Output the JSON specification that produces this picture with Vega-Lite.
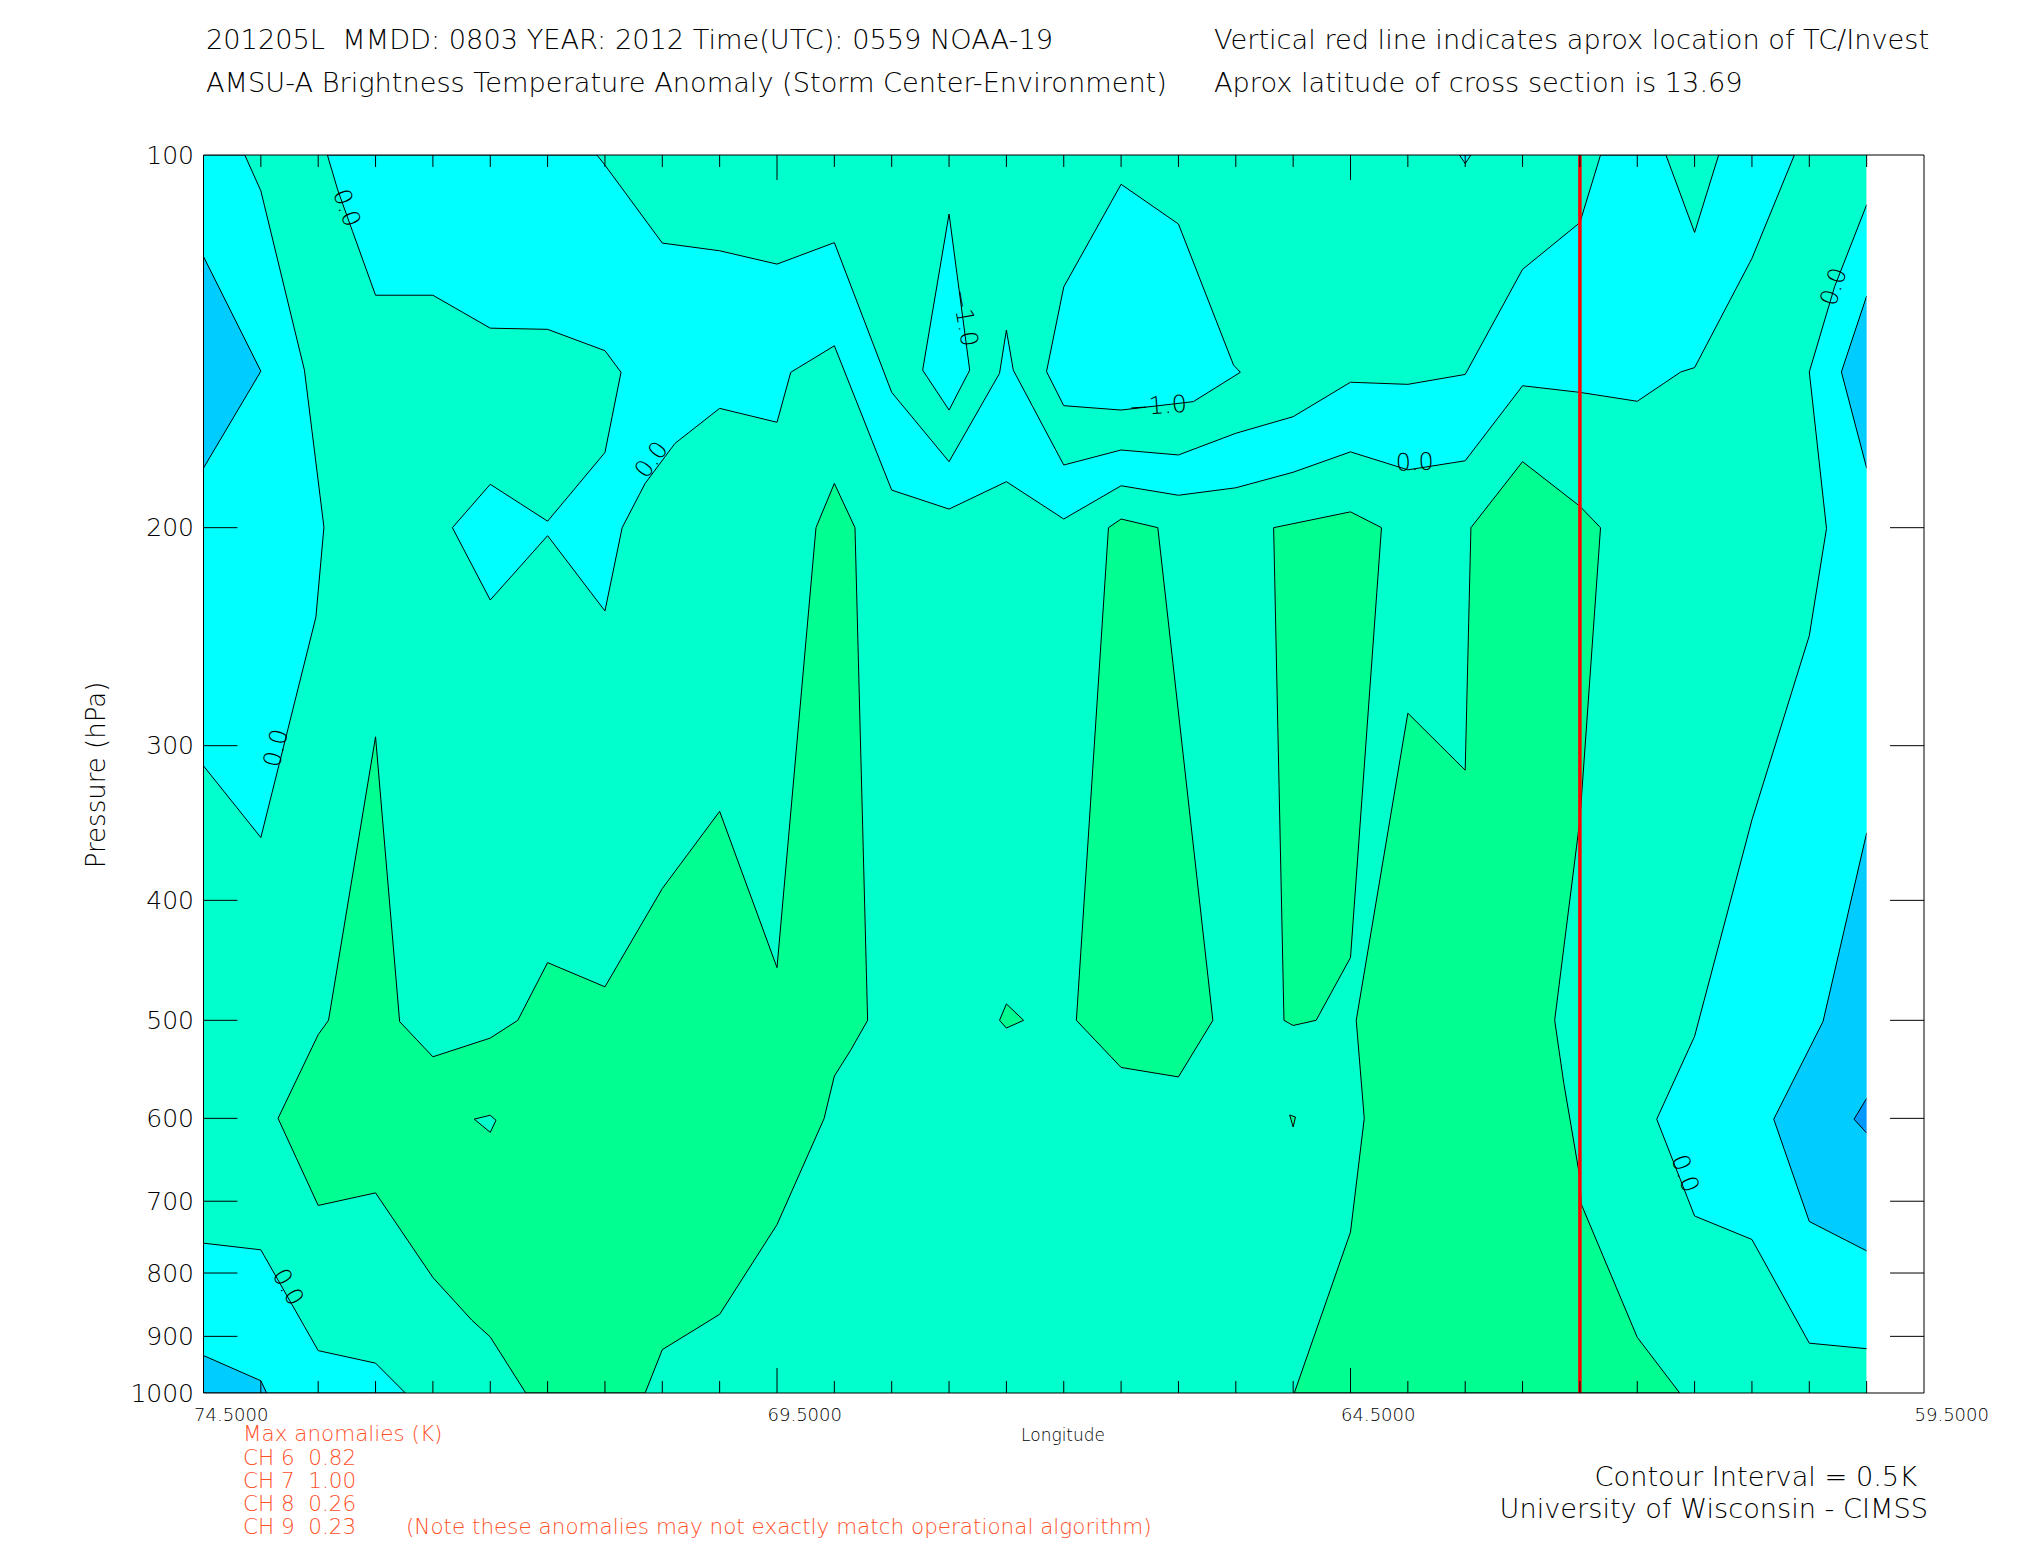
{
"$schema":"https://vega.github.io/schema/vega-lite/v6.json",
"width":1720.5,"height":1238,
"autosize":{"type":"none"},
"padding":{"left":203.5,"top":155,"right":101,"bottom":157},
"background":"white",
"config":{"view":{"stroke":null},"font":"DejaVu Sans","text":{"font":"DejaVu Sans"}},
"datasets":{
"poly":[
{"id":"A","k":0,"lon":74.5,"p":100,"c":"cyan"},{"id":"A","k":1,"lon":74.14,"p":100,"c":"cyan"},{"id":"A","k":2,"lon":74.0,"p":106.9,"c":"cyan"},{"id":"A","k":3,"lon":73.62,"p":149.2,"c":"cyan"},{"id":"A","k":4,"lon":73.45,"p":199.8,"c":"cyan"},{"id":"A","k":5,"lon":73.52,"p":236.2,"c":"cyan"},{"id":"A","k":6,"lon":74.0,"p":355.9,"c":"cyan"},{"id":"A","k":7,"lon":74.5,"p":311.5,"c":"cyan"},
{"id":"B","k":0,"lon":73.42,"p":100,"c":"cyan"},{"id":"B","k":1,"lon":73.33,"p":106.7,"c":"cyan"},{"id":"B","k":2,"lon":73.2,"p":115.3,"c":"cyan"},{"id":"B","k":3,"lon":73.0,"p":129.8,"c":"cyan"},{"id":"B","k":4,"lon":72.5,"p":129.8,"c":"cyan"},{"id":"B","k":5,"lon":72.0,"p":138.0,"c":"cyan"},{"id":"B","k":6,"lon":71.5,"p":138.3,"c":"cyan"},{"id":"B","k":7,"lon":71.0,"p":143.9,"c":"cyan"},{"id":"B","k":8,"lon":70.86,"p":149.8,"c":"cyan"},{"id":"B","k":9,"lon":71.0,"p":173.9,"c":"cyan"},{"id":"B","k":10,"lon":71.5,"p":197.6,"c":"cyan"},{"id":"B","k":11,"lon":72.0,"p":184.5,"c":"cyan"},{"id":"B","k":12,"lon":72.33,"p":200,"c":"cyan"},{"id":"B","k":13,"lon":72.0,"p":228.8,"c":"cyan"},{"id":"B","k":14,"lon":71.5,"p":203.0,"c":"cyan"},{"id":"B","k":15,"lon":71.0,"p":233.5,"c":"cyan"},{"id":"B","k":16,"lon":70.85,"p":200,"c":"cyan"},{"id":"B","k":17,"lon":70.65,"p":184.2,"c":"cyan"},{"id":"B","k":18,"lon":70.39,"p":171.0,"c":"cyan"},{"id":"B","k":19,"lon":70.0,"p":160.2,"c":"cyan"},{"id":"B","k":20,"lon":69.5,"p":164.4,"c":"cyan"},{"id":"B","k":21,"lon":69.38,"p":149.8,"c":"cyan"},{"id":"B","k":22,"lon":69.0,"p":142.6,"c":"cyan"},{"id":"B","k":23,"lon":68.5,"p":186.5,"c":"cyan"},{"id":"B","k":24,"lon":68.0,"p":193.2,"c":"cyan"},{"id":"B","k":25,"lon":67.5,"p":183.6,"c":"cyan"},{"id":"B","k":26,"lon":67.0,"p":196.8,"c":"cyan"},{"id":"B","k":27,"lon":66.5,"p":185.0,"c":"cyan"},{"id":"B","k":28,"lon":66.0,"p":188.3,"c":"cyan"},{"id":"B","k":29,"lon":65.5,"p":185.7,"c":"cyan"},{"id":"B","k":30,"lon":65.0,"p":180.4,"c":"cyan"},{"id":"B","k":31,"lon":64.5,"p":173.7,"c":"cyan"},{"id":"B","k":32,"lon":64.0,"p":179.6,"c":"cyan"},{"id":"B","k":33,"lon":63.5,"p":176.6,"c":"cyan"},{"id":"B","k":34,"lon":63.0,"p":153.6,"c":"cyan"},{"id":"B","k":35,"lon":62.5,"p":155.5,"c":"cyan"},{"id":"B","k":36,"lon":62.0,"p":158.1,"c":"cyan"},{"id":"B","k":37,"lon":61.62,"p":149.7,"c":"cyan"},{"id":"B","k":38,"lon":61.5,"p":148.5,"c":"cyan"},{"id":"B","k":39,"lon":61.0,"p":121.2,"c":"cyan"},{"id":"B","k":40,"lon":60.63,"p":100,"c":"cyan"},{"id":"B","k":41,"lon":61.29,"p":100,"c":"cyan"},{"id":"B","k":42,"lon":61.5,"p":115.5,"c":"cyan"},{"id":"B","k":43,"lon":61.75,"p":100,"c":"cyan"},{"id":"B","k":44,"lon":62.32,"p":100,"c":"cyan"},{"id":"B","k":45,"lon":62.5,"p":113.4,"c":"cyan"},{"id":"B","k":46,"lon":63.0,"p":123.7,"c":"cyan"},{"id":"B","k":47,"lon":63.5,"p":150.4,"c":"cyan"},{"id":"B","k":48,"lon":64.0,"p":153.2,"c":"cyan"},{"id":"B","k":49,"lon":64.5,"p":152.6,"c":"cyan"},{"id":"B","k":50,"lon":65.0,"p":162.7,"c":"cyan"},{"id":"B","k":51,"lon":65.5,"p":167.8,"c":"cyan"},{"id":"B","k":52,"lon":66.0,"p":174.7,"c":"cyan"},{"id":"B","k":53,"lon":66.5,"p":173.1,"c":"cyan"},{"id":"B","k":54,"lon":67.0,"p":178.0,"c":"cyan"},{"id":"B","k":55,"lon":67.44,"p":149.2,"c":"cyan"},{"id":"B","k":56,"lon":67.5,"p":138.5,"c":"cyan"},{"id":"B","k":57,"lon":67.56,"p":150.1,"c":"cyan"},{"id":"B","k":58,"lon":68.0,"p":176.9,"c":"cyan"},{"id":"B","k":59,"lon":68.5,"p":155.5,"c":"cyan"},{"id":"B","k":60,"lon":69.0,"p":117.7,"c":"cyan"},{"id":"B","k":61,"lon":69.5,"p":122.5,"c":"cyan"},{"id":"B","k":62,"lon":70.0,"p":119.5,"c":"cyan"},{"id":"B","k":63,"lon":70.5,"p":117.8,"c":"cyan"},{"id":"B","k":64,"lon":71.0,"p":101.9,"c":"cyan"},{"id":"B","k":65,"lon":71.07,"p":100,"c":"cyan"},
{"id":"E1","k":0,"lon":66.5,"p":105.6,"c":"cyan"},{"id":"E1","k":1,"lon":66.0,"p":113.7,"c":"cyan"},{"id":"E1","k":2,"lon":65.52,"p":147.8,"c":"cyan"},{"id":"E1","k":3,"lon":65.46,"p":149.8,"c":"cyan"},{"id":"E1","k":4,"lon":65.87,"p":158.2,"c":"cyan"},{"id":"E1","k":5,"lon":66.5,"p":160.7,"c":"cyan"},{"id":"E1","k":6,"lon":67.0,"p":159.4,"c":"cyan"},{"id":"E1","k":7,"lon":67.15,"p":149.6,"c":"cyan"},{"id":"E1","k":8,"lon":67.0,"p":127.8,"c":"cyan"},
{"id":"E2","k":0,"lon":68.0,"p":111.6,"c":"cyan"},{"id":"E2","k":1,"lon":67.82,"p":149.2,"c":"cyan"},{"id":"E2","k":2,"lon":68.0,"p":160.7,"c":"cyan"},{"id":"E2","k":3,"lon":68.23,"p":149.2,"c":"cyan"},
{"id":"V","k":0,"lon":63.55,"p":100,"c":"cyan"},{"id":"V","k":1,"lon":63.5,"p":101.6,"c":"cyan"},{"id":"V","k":2,"lon":63.45,"p":100,"c":"cyan"},
{"id":"C","k":0,"lon":60.0,"p":109.7,"c":"cyan"},{"id":"C","k":1,"lon":60.28,"p":127.8,"c":"cyan"},{"id":"C","k":2,"lon":60.5,"p":149.7,"c":"cyan"},{"id":"C","k":3,"lon":60.35,"p":200.3,"c":"cyan"},{"id":"C","k":4,"lon":60.5,"p":244.5,"c":"cyan"},{"id":"C","k":5,"lon":61.0,"p":344.4,"c":"cyan"},{"id":"C","k":6,"lon":61.5,"p":515.1,"c":"cyan"},{"id":"C","k":7,"lon":61.83,"p":600.9,"c":"cyan"},{"id":"C","k":8,"lon":61.5,"p":719.5,"c":"cyan"},{"id":"C","k":9,"lon":61.0,"p":751.6,"c":"cyan"},{"id":"C","k":10,"lon":60.5,"p":911.5,"c":"cyan"},{"id":"C","k":11,"lon":60.0,"p":920.9,"c":"cyan"},{"id":"C","k":12,"lon":59.5,"p":920.9,"c":"cyan"},{"id":"C","k":13,"lon":59.5,"p":109.7,"c":"cyan"},
{"id":"D","k":0,"lon":74.5,"p":756.8,"c":"cyan"},{"id":"D","k":1,"lon":74.0,"p":766.2,"c":"cyan"},{"id":"D","k":2,"lon":73.5,"p":924.2,"c":"cyan"},{"id":"D","k":3,"lon":73.0,"p":946.0,"c":"cyan"},{"id":"D","k":4,"lon":72.74,"p":1000,"c":"cyan"},{"id":"D","k":5,"lon":74.5,"p":1000,"c":"cyan"},
{"id":"BL1","k":0,"lon":74.5,"p":120.8,"c":"blue"},{"id":"BL1","k":1,"lon":74.0,"p":149.5,"c":"blue"},{"id":"BL1","k":2,"lon":74.5,"p":179.0,"c":"blue"},
{"id":"BL2","k":0,"lon":74.5,"p":932.7,"c":"blue"},{"id":"BL2","k":1,"lon":74.0,"p":977.5,"c":"blue"},{"id":"BL2","k":2,"lon":73.95,"p":1000,"c":"blue"},{"id":"BL2","k":3,"lon":74.5,"p":1000,"c":"blue"},
{"id":"BL3","k":0,"lon":60.0,"p":130.0,"c":"blue"},{"id":"BL3","k":1,"lon":60.22,"p":149.7,"c":"blue"},{"id":"BL3","k":2,"lon":60.0,"p":179.0,"c":"blue"},{"id":"BL3","k":3,"lon":59.5,"p":179.0,"c":"blue"},{"id":"BL3","k":4,"lon":59.5,"p":130.0,"c":"blue"},
{"id":"BL4","k":0,"lon":60.0,"p":352.9,"c":"blue"},{"id":"BL4","k":1,"lon":60.38,"p":501.0,"c":"blue"},{"id":"BL4","k":2,"lon":60.81,"p":600.9,"c":"blue"},{"id":"BL4","k":3,"lon":60.5,"p":726.9,"c":"blue"},{"id":"BL4","k":4,"lon":60.0,"p":767.7,"c":"blue"},{"id":"BL4","k":5,"lon":59.5,"p":767.7,"c":"blue"},{"id":"BL4","k":6,"lon":59.5,"p":352.9,"c":"blue"},
{"id":"BL5","k":0,"lon":60.0,"p":578.2,"c":"deep"},{"id":"BL5","k":1,"lon":60.11,"p":600.9,"c":"deep"},{"id":"BL5","k":2,"lon":60.0,"p":616.6,"c":"deep"},{"id":"BL5","k":3,"lon":59.5,"p":616.6,"c":"deep"},{"id":"BL5","k":4,"lon":59.5,"p":578.2,"c":"deep"},
{"id":"G1","k":0,"lon":73.0,"p":295.1,"c":"green"},{"id":"G1","k":1,"lon":72.79,"p":501.2,"c":"green"},{"id":"G1","k":2,"lon":72.5,"p":535.1,"c":"green"},{"id":"G1","k":3,"lon":72.0,"p":516.8,"c":"green"},{"id":"G1","k":4,"lon":71.76,"p":500,"c":"green"},{"id":"G1","k":5,"lon":71.5,"p":449.1,"c":"green"},{"id":"G1","k":6,"lon":71.0,"p":469.8,"c":"green"},{"id":"G1","k":7,"lon":70.5,"p":391.3,"c":"green"},{"id":"G1","k":8,"lon":70.0,"p":339.0,"c":"green"},{"id":"G1","k":9,"lon":69.5,"p":453.3,"c":"green"},{"id":"G1","k":10,"lon":69.16,"p":200,"c":"green"},{"id":"G1","k":11,"lon":69.0,"p":184.2,"c":"green"},{"id":"G1","k":12,"lon":68.82,"p":200,"c":"green"},{"id":"G1","k":13,"lon":68.71,"p":500,"c":"green"},{"id":"G1","k":14,"lon":68.86,"p":529.0,"c":"green"},{"id":"G1","k":15,"lon":69.0,"p":554.6,"c":"green"},{"id":"G1","k":16,"lon":69.09,"p":600.4,"c":"green"},{"id":"G1","k":17,"lon":69.5,"p":731.1,"c":"green"},{"id":"G1","k":18,"lon":70.0,"p":863.9,"c":"green"},{"id":"G1","k":19,"lon":70.5,"p":922.5,"c":"green"},{"id":"G1","k":20,"lon":70.65,"p":1000,"c":"green"},{"id":"G1","k":21,"lon":71.69,"p":1000,"c":"green"},{"id":"G1","k":22,"lon":72.0,"p":901.0,"c":"green"},{"id":"G1","k":23,"lon":72.16,"p":873.4,"c":"green"},{"id":"G1","k":24,"lon":72.5,"p":806.7,"c":"green"},{"id":"G1","k":25,"lon":73.0,"p":689.2,"c":"green"},{"id":"G1","k":26,"lon":73.5,"p":705.5,"c":"green"},{"id":"G1","k":27,"lon":73.85,"p":600,"c":"green"},{"id":"G1","k":28,"lon":73.5,"p":513.5,"c":"green"},{"id":"G1","k":29,"lon":73.41,"p":500,"c":"green"},
{"id":"G2","k":0,"lon":67.5,"p":485,"c":"green"},{"id":"G2","k":1,"lon":67.35,"p":500,"c":"green"},{"id":"G2","k":2,"lon":67.5,"p":507.2,"c":"green"},{"id":"G2","k":3,"lon":67.56,"p":500,"c":"green"},
{"id":"G3","k":0,"lon":66.61,"p":200,"c":"green"},{"id":"G3","k":1,"lon":66.5,"p":196.8,"c":"green"},{"id":"G3","k":2,"lon":66.18,"p":200,"c":"green"},{"id":"G3","k":3,"lon":65.7,"p":500,"c":"green"},{"id":"G3","k":4,"lon":66.0,"p":555.5,"c":"green"},{"id":"G3","k":5,"lon":66.5,"p":545.8,"c":"green"},{"id":"G3","k":6,"lon":66.89,"p":500,"c":"green"},
{"id":"G4","k":0,"lon":65.17,"p":200,"c":"green"},{"id":"G4","k":1,"lon":64.5,"p":194.2,"c":"green"},{"id":"G4","k":2,"lon":64.23,"p":200,"c":"green"},{"id":"G4","k":3,"lon":64.5,"p":444.9,"c":"green"},{"id":"G4","k":4,"lon":64.8,"p":500,"c":"green"},{"id":"G4","k":5,"lon":65.0,"p":504.8,"c":"green"},{"id":"G4","k":6,"lon":65.08,"p":500,"c":"green"},
{"id":"GT","k":0,"lon":65.03,"p":596.3,"c":"green"},{"id":"GT","k":1,"lon":64.98,"p":598.5,"c":"green"},{"id":"GT","k":2,"lon":65.0,"p":609.7,"c":"green"},
{"id":"G5","k":0,"lon":63.45,"p":200,"c":"green"},{"id":"G5","k":1,"lon":63.0,"p":176.9,"c":"green"},{"id":"G5","k":2,"lon":62.5,"p":192.2,"c":"green"},{"id":"G5","k":3,"lon":62.32,"p":200,"c":"green"},{"id":"G5","k":4,"lon":62.5,"p":344.4,"c":"green"},{"id":"G5","k":5,"lon":62.72,"p":500,"c":"green"},{"id":"G5","k":6,"lon":62.64,"p":562.3,"c":"green"},{"id":"G5","k":7,"lon":62.5,"p":669.8,"c":"green"},{"id":"G5","k":8,"lon":62.49,"p":703.2,"c":"green"},{"id":"G5","k":9,"lon":62.0,"p":901.6,"c":"green"},{"id":"G5","k":10,"lon":61.63,"p":1000,"c":"green"},{"id":"G5","k":11,"lon":64.99,"p":1000,"c":"green"},{"id":"G5","k":12,"lon":64.5,"p":741.3,"c":"green"},{"id":"G5","k":13,"lon":64.38,"p":600,"c":"green"},{"id":"G5","k":14,"lon":64.45,"p":500,"c":"green"},{"id":"G5","k":15,"lon":64.0,"p":282.4,"c":"green"},{"id":"G5","k":16,"lon":63.5,"p":314.0,"c":"green"},
{"id":"AT","k":0,"lon":72.14,"p":600.9,"c":"aqua"},{"id":"AT","k":1,"lon":72.0,"p":596.5,"c":"aqua"},{"id":"AT","k":2,"lon":71.95,"p":602.2,"c":"aqua"},{"id":"AT","k":3,"lon":72.0,"p":615.8,"c":"aqua"}
],
"seg":[
{"lon":74.5,"lon2":59.5,"p":100,"p2":100},{"lon":74.5,"lon2":59.5,"p":1000,"p2":1000},{"lon":74.5,"lon2":74.5,"p":100,"p2":1000},{"lon":59.5,"lon2":59.5,"p":100,"p2":1000},
{"lon":74.5,"lon2":74.204,"p":200,"p2":200},{"lon":74.5,"lon2":74.204,"p":300,"p2":300},{"lon":74.5,"lon2":74.204,"p":400,"p2":400},{"lon":74.5,"lon2":74.204,"p":500,"p2":500},{"lon":74.5,"lon2":74.204,"p":600,"p2":600},{"lon":74.5,"lon2":74.204,"p":700,"p2":700},{"lon":74.5,"lon2":74.204,"p":800,"p2":800},{"lon":74.5,"lon2":74.204,"p":900,"p2":900},
{"lon":59.5,"lon2":59.796,"p":200,"p2":200},{"lon":59.5,"lon2":59.796,"p":300,"p2":300},{"lon":59.5,"lon2":59.796,"p":400,"p2":400},{"lon":59.5,"lon2":59.796,"p":500,"p2":500},{"lon":59.5,"lon2":59.796,"p":600,"p2":600},{"lon":59.5,"lon2":59.796,"p":700,"p2":700},{"lon":59.5,"lon2":59.796,"p":800,"p2":800},{"lon":59.5,"lon2":59.796,"p":900,"p2":900},
{"lon":74.0,"lon2":74.0,"p":1000,"p2":977.9},{"lon":73.5,"lon2":73.5,"p":1000,"p2":977.9},{"lon":73.0,"lon2":73.0,"p":1000,"p2":977.9},{"lon":72.5,"lon2":72.5,"p":1000,"p2":977.9},{"lon":72.0,"lon2":72.0,"p":1000,"p2":977.9},{"lon":71.5,"lon2":71.5,"p":1000,"p2":977.9},{"lon":71.0,"lon2":71.0,"p":1000,"p2":977.9},{"lon":70.5,"lon2":70.5,"p":1000,"p2":977.9},{"lon":70.0,"lon2":70.0,"p":1000,"p2":977.9},{"lon":69.5,"lon2":69.5,"p":1000,"p2":954.6},{"lon":69.0,"lon2":69.0,"p":1000,"p2":977.9},{"lon":68.5,"lon2":68.5,"p":1000,"p2":977.9},{"lon":68.0,"lon2":68.0,"p":1000,"p2":977.9},{"lon":67.5,"lon2":67.5,"p":1000,"p2":977.9},{"lon":67.0,"lon2":67.0,"p":1000,"p2":977.9},{"lon":66.5,"lon2":66.5,"p":1000,"p2":977.9},{"lon":66.0,"lon2":66.0,"p":1000,"p2":977.9},{"lon":65.5,"lon2":65.5,"p":1000,"p2":977.9},{"lon":65.0,"lon2":65.0,"p":1000,"p2":977.9},{"lon":64.5,"lon2":64.5,"p":1000,"p2":954.6},{"lon":64.0,"lon2":64.0,"p":1000,"p2":977.9},{"lon":63.5,"lon2":63.5,"p":1000,"p2":977.9},{"lon":63.0,"lon2":63.0,"p":1000,"p2":977.9},{"lon":62.5,"lon2":62.5,"p":1000,"p2":977.9},{"lon":62.0,"lon2":62.0,"p":1000,"p2":977.9},{"lon":61.5,"lon2":61.5,"p":1000,"p2":977.9},{"lon":61.0,"lon2":61.0,"p":1000,"p2":977.9},{"lon":60.5,"lon2":60.5,"p":1000,"p2":977.9},{"lon":60.0,"lon2":60.0,"p":1000,"p2":977.9},
{"lon":74.0,"lon2":74.0,"p":100,"p2":102.26},{"lon":73.5,"lon2":73.5,"p":100,"p2":102.26},{"lon":73.0,"lon2":73.0,"p":100,"p2":102.26},{"lon":72.5,"lon2":72.5,"p":100,"p2":102.26},{"lon":72.0,"lon2":72.0,"p":100,"p2":102.26},{"lon":71.5,"lon2":71.5,"p":100,"p2":102.26},{"lon":71.0,"lon2":71.0,"p":100,"p2":102.26},{"lon":70.5,"lon2":70.5,"p":100,"p2":102.26},{"lon":70.0,"lon2":70.0,"p":100,"p2":102.26},{"lon":69.5,"lon2":69.5,"p":100,"p2":104.76},{"lon":69.0,"lon2":69.0,"p":100,"p2":102.26},{"lon":68.5,"lon2":68.5,"p":100,"p2":102.26},{"lon":68.0,"lon2":68.0,"p":100,"p2":102.26},{"lon":67.5,"lon2":67.5,"p":100,"p2":102.26},{"lon":67.0,"lon2":67.0,"p":100,"p2":102.26},{"lon":66.5,"lon2":66.5,"p":100,"p2":102.26},{"lon":66.0,"lon2":66.0,"p":100,"p2":102.26},{"lon":65.5,"lon2":65.5,"p":100,"p2":102.26},{"lon":65.0,"lon2":65.0,"p":100,"p2":102.26},{"lon":64.5,"lon2":64.5,"p":100,"p2":104.76},{"lon":64.0,"lon2":64.0,"p":100,"p2":102.26},{"lon":63.5,"lon2":63.5,"p":100,"p2":102.26},{"lon":63.0,"lon2":63.0,"p":100,"p2":102.26},{"lon":62.5,"lon2":62.5,"p":100,"p2":102.26},{"lon":62.0,"lon2":62.0,"p":100,"p2":102.26},{"lon":61.5,"lon2":61.5,"p":100,"p2":102.26},{"lon":61.0,"lon2":61.0,"p":100,"p2":102.26},{"lon":60.5,"lon2":60.5,"p":100,"p2":102.26},{"lon":60.0,"lon2":60.0,"p":100,"p2":102.26}
]
},
"encoding":{
"x":{"field":"lon","type":"quantitative","scale":{"domain":[59.5,74.5],"reverse":true,"nice":false,"zero":false},
 "axis":{"title":null,"values":[74.5,69.5,64.5,59.5],"format":".4f","ticks":false,"tickSize":0,"domain":false,"grid":false,"labelFontSize":18,"labelFont":"DejaVu Sans","labelFontWeight":200,"labelColor":"#000000","labelAlign":"left","labelBaseline":"top","labelOffset":-10,"labelPadding":13,"labelFlush":false,"labelOverlap":false,"labelBound":false}},
"y":{"field":"p","type":"quantitative","scale":{"type":"log","domain":[100,1000],"reverse":true,"nice":false},
 "axis":{"title":null,"values":[100,200,300,400,500,600,700,800,900,1000],"format":"d","ticks":false,"tickSize":0,"domain":false,"grid":false,"labelFontSize":25,"labelFont":"DejaVu Sans","labelFontWeight":200,"labelColor":"#000000","labelPadding":10,"labelOverlap":false,"labelFlush":false,"labelBound":false}}
},
"layer":[
{"data":{"values":[{"lon":74.5,"lon2":60,"p":100,"p2":1000}]},"mark":{"type":"rect","fill":"#00ffcc"},"encoding":{"x2":{"field":"lon2"},"y2":{"field":"p2"}}},
{"data":{"name":"poly"},"transform":[{"filter":"datum.c == 'cyan'"}],"mark":{"type":"line","fill":"#00ffff","stroke":"#000000","strokeWidth":1,"interpolate":"linear-closed","clip":true},"encoding":{"detail":{"field":"id"},"order":{"field":"k","type":"quantitative"}}},
{"data":{"name":"poly"},"transform":[{"filter":"datum.c == 'blue'"}],"mark":{"type":"line","fill":"#00ccff","stroke":"#000000","strokeWidth":1,"interpolate":"linear-closed","clip":true},"encoding":{"detail":{"field":"id"},"order":{"field":"k","type":"quantitative"}}},
{"data":{"name":"poly"},"transform":[{"filter":"datum.c == 'deep'"}],"mark":{"type":"line","fill":"#0099ff","stroke":"#000000","strokeWidth":1,"interpolate":"linear-closed","clip":true},"encoding":{"detail":{"field":"id"},"order":{"field":"k","type":"quantitative"}}},
{"data":{"name":"poly"},"transform":[{"filter":"datum.c == 'green'"}],"mark":{"type":"line","fill":"#00ff90","stroke":"#000000","strokeWidth":1,"interpolate":"linear-closed","clip":true},"encoding":{"detail":{"field":"id"},"order":{"field":"k","type":"quantitative"}}},
{"data":{"name":"poly"},"transform":[{"filter":"datum.c == 'aqua'"}],"mark":{"type":"line","fill":"#00ffcc","stroke":"#000000","strokeWidth":1,"interpolate":"linear-closed","clip":true},"encoding":{"detail":{"field":"id"},"order":{"field":"k","type":"quantitative"}}},
{"data":{"values":[{"lon":60,"lon2":59.5,"p":100,"p2":1000}]},"mark":{"type":"rect","fill":"#ffffff"},"encoding":{"x2":{"field":"lon2"},"y2":{"field":"p2"}}},
{"data":{"values":[{"lon":62.5,"lon2":62.5,"p":100,"p2":1000}]},"mark":{"type":"rule","stroke":"#ff0000","strokeWidth":3.5},"encoding":{"x2":{"field":"lon2"},"y2":{"field":"p2"}}},
{"data":{"name":"seg"},"mark":{"type":"rule","stroke":"#000000","strokeWidth":1},"encoding":{"x2":{"field":"lon2"},"y2":{"field":"p2"}}},
{"data":{"values":[{"lon":73.26,"p":110.4,"t":"0.0"}]},"mark":{"type":"text","fontSize":24,"angle":70,"align":"center","baseline":"middle","fontWeight":200},"encoding":{"text":{"field":"t"}}},
{"data":{"values":[{"lon":70.59,"p":176.4,"t":"0.0"}]},"mark":{"type":"text","fontSize":24,"angle":306,"align":"center","baseline":"middle","fontWeight":200},"encoding":{"text":{"field":"t"}}},
{"data":{"values":[{"lon":67.87,"p":135.4,"t":"−1.0"}]},"mark":{"type":"text","fontSize":24,"angle":80,"align":"center","baseline":"middle","fontWeight":200},"encoding":{"text":{"field":"t"}}},
{"data":{"values":[{"lon":66.18,"p":159.7,"t":"−1.0"}]},"mark":{"type":"text","fontSize":24,"angle":356,"align":"center","baseline":"middle","fontWeight":200},"encoding":{"text":{"field":"t"}}},
{"data":{"values":[{"lon":63.94,"p":177.4,"t":"0.0"}]},"mark":{"type":"text","fontSize":24,"angle":358,"align":"center","baseline":"middle","fontWeight":200},"encoding":{"text":{"field":"t"}}},
{"data":{"values":[{"lon":60.28,"p":127.8,"t":"0.0"}]},"mark":{"type":"text","fontSize":24,"angle":288,"align":"center","baseline":"middle","fontWeight":200},"encoding":{"text":{"field":"t"}}},
{"data":{"values":[{"lon":73.86,"p":301.5,"t":"0.0"}]},"mark":{"type":"text","fontSize":24,"angle":284,"align":"center","baseline":"middle","fontWeight":200},"encoding":{"text":{"field":"t"}}},
{"data":{"values":[{"lon":73.77,"p":821.9,"t":"0.0"}]},"mark":{"type":"text","fontSize":24,"angle":60,"align":"center","baseline":"middle","fontWeight":200},"encoding":{"text":{"field":"t"}}},
{"data":{"values":[{"lon":61.59,"p":665.2,"t":"0.0"}]},"mark":{"type":"text","fontSize":24,"angle":69,"align":"center","baseline":"middle","fontWeight":200},"encoding":{"text":{"field":"t"}}},
{"data":{"values":[{"lon":74.478,"p":80.9,"t":"201205L\u00a0 MMDD: 0803 YEAR: 2012 Time(UTC): 0559 NOAA-19"},{"lon":74.478,"p":87.6,"t":"AMSU-A Brightness Temperature Anomaly (Storm Center-Environment)"},{"lon":65.69,"p":80.9,"t":"Vertical red line indicates aprox location of TC/Invest"},{"lon":65.69,"p":87.6,"t":"Aprox latitude of cross section is 13.69"}]},"mark":{"type":"text","fontSize":27.2,"align":"left","baseline":"middle","fontWeight":200,"color":"#000000"},"encoding":{"text":{"field":"t"}}},
{"data":{"values":[{"lon":74.156,"p":1081.3,"t":"Max anomalies (K)"},{"lon":74.156,"p":1130.7,"t":"CH 6\u00a0 0.82"},{"lon":74.156,"p":1180.0,"t":"CH 7\u00a0 1.00"},{"lon":74.156,"p":1231.7,"t":"CH 8\u00a0 0.26"},{"lon":74.156,"p":1285.5,"t":"CH 9\u00a0 0.23"},{"lon":72.735,"p":1285.5,"t":"(Note these anomalies may not exactly match operational algorithm)"}]},"mark":{"type":"text","fontSize":21.5,"align":"left","baseline":"middle","fontWeight":200,"color":"#ff5028"},"encoding":{"text":{"field":"t"}}},
{"data":{"values":[{"lon":59.561,"p":1171.3,"t":"Contour Interval = 0.5K"},{"lon":59.465,"p":1243.2,"t":"University of Wisconsin - CIMSS"}]},"mark":{"type":"text","fontSize":27.2,"align":"right","baseline":"middle","fontWeight":200,"color":"#000000"},"encoding":{"text":{"field":"t"}}},
{"data":{"values":[{"lon":75.43,"p":316.8,"t":"Pressure (hPa)"}]},"mark":{"type":"text","fontSize":26,"angle":270,"align":"center","baseline":"middle","fontWeight":200,"color":"#000000"},"encoding":{"text":{"field":"t"}}},
{"data":{"values":[{"lon":67.006,"p":1083.3,"t":"Longitude"}]},"mark":{"type":"text","fontSize":17,"align":"center","baseline":"middle","fontWeight":200,"color":"#000000"},"encoding":{"text":{"field":"t"}}}
]
}
